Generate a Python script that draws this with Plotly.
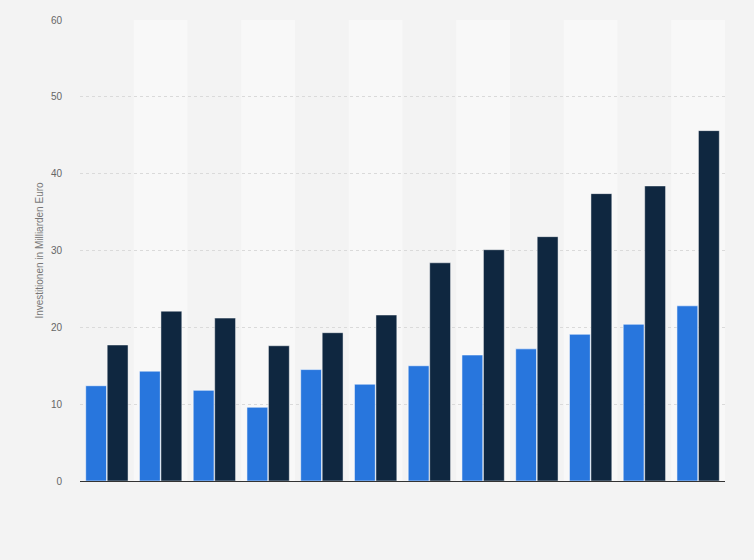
import plotly.graph_objects as go

categories = ["2009", "2010", "2011", "2012", "2013", "2014", "2015", "2016", "2017", "2018", "2019", "2020"]
series_a = [12.4, 14.3, 11.8, 9.6, 14.5, 12.6, 15.0, 16.4, 17.2, 19.1, 20.4, 22.8]
series_b = [17.7, 22.1, 21.2, 17.6, 19.3, 21.6, 28.4, 30.1, 31.8, 37.4, 38.4, 45.6]
y_ticks = [0, 10, 20, 30, 40, 50, 60]

fig = go.Figure()
fig.add_trace(go.Bar(x=categories, y=series_a, name="A",
                     marker=dict(color="#2876dd", line=dict(color="rgba(255,255,255,0.55)", width=1))))
fig.add_trace(go.Bar(x=categories, y=series_b, name="B",
                     marker=dict(color="#0f2740", line=dict(color="rgba(255,255,255,0.45)", width=1))))

shapes = []
for i in range(len(categories)):
    if i % 2 == 1:
        shapes.append(dict(type="rect", xref="x", yref="paper", x0=i - 0.5, x1=i + 0.5, y0=0, y1=1,
                           fillcolor="#f8f8f8", line=dict(width=0), layer="below"))

fig.update_layout(
    width=754, height=560,
    paper_bgcolor="#f3f3f3", plot_bgcolor="#f3f3f3",
    margin=dict(l=80, r=29, t=20, b=79),
    barmode="group", bargap=0.2, bargroupgap=0.03,
    showlegend=False,
    shapes=shapes,
    font=dict(family="Arial, Liberation Sans, sans-serif", color="#666666", size=10),
    xaxis=dict(showticklabels=False, showgrid=False, zeroline=False, ticks="",
               range=[-0.5, len(categories) - 0.5],
               showline=True, linecolor="#333333", linewidth=1),
    yaxis=dict(range=[0, 60], tickvals=y_ticks, showgrid=True, gridcolor="#dadada",
               griddash="dot", gridwidth=1, zeroline=False, ticks="",
               tickfont=dict(size=10, color="#666666"), ticklabelstandoff=17,
               title=dict(text="Investitionen in Milliarden Euro", font=dict(size=10, color="#777777"),
                          standoff=5)),
)
fig.write_html("out.html", config={"displayModeBar": False},
               post_script="document.body.style.margin='0';document.body.style.background='#f3f3f3';")
